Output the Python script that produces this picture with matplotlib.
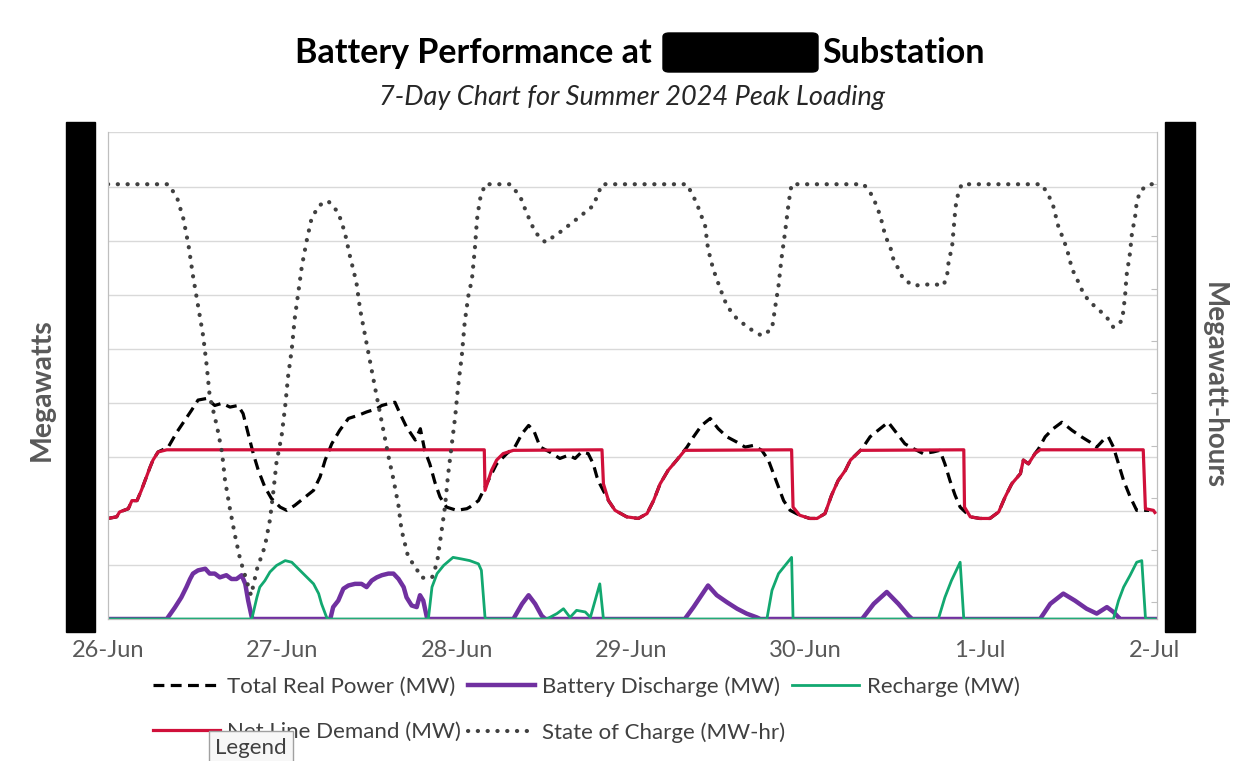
import matplotlib
matplotlib.use('Agg')
import matplotlib.pyplot as plt
from matplotlib.patches import FancyBboxPatch, Rectangle

plt.rcParams['font.family'] = ['Lato', 'DejaVu Sans']

# hours from 26-Jun 00:00
day_labels = ['26-Jun', '27-Jun', '28-Jun', '29-Jun', '30-Jun', '1-Jul', '2-Jul']

total_h = [0, 1.2, 1.6, 2.8, 3.3, 4.0, 4.6, 5.3, 5.8, 6.2, 6.9, 8.3, 9.5, 10.6, 11.5, 12.4, 13.6,
           14.7, 15.7, 16.8, 17.9, 18.6, 19.3, 20.0, 20.7, 21.6, 22.5, 23.7, 24.6, 25.7, 26.9, 28.3,
           29.2, 29.9, 30.8, 31.9, 33.1, 34.5, 35.6, 37.0, 37.7, 38.8, 39.5, 40.2, 41.1, 42.3, 43.0,
           43.6, 44.3, 45.0, 45.7, 46.6, 48.0, 49.4, 49.8, 51.0, 51.7, 52.6, 53.5, 54.9, 56.0, 57.0,
           57.9, 58.6, 59.5, 60.8, 62.2, 63.4, 64.3, 65.2, 66.1, 66.8, 67.3, 67.7, 68.9, 69.8, 71.4,
           73.0, 74.2, 75.1, 76.0, 77.1, 78.3, 79.7, 80.6, 81.7, 82.9, 84.0, 85.2, 86.6, 87.7, 88.8,
           90.0, 90.9, 91.6, 92.3, 93.0, 93.9, 95.2, 96.6, 97.6, 98.7, 99.6, 100.5, 101.5, 102.2,
           103.8, 104.9, 106.0, 107.4, 108.6, 109.7, 110.9, 112.2, 113.6, 114.5, 115.2, 115.9, 116.6,
           117.3, 118.7, 120.0, 121.4, 122.6, 123.5, 124.4, 125.6, 126.0, 126.7, 127.6, 128.1, 129.0,
           130.1, 131.3, 132.7, 134.0, 135.2, 136.1, 137.0, 137.7, 138.4, 139.1, 139.8, 140.7, 141.6,
           142.8, 143.3]
total_mw = [1.86, 1.89, 1.98, 2.04, 2.19, 2.19, 2.38, 2.63, 2.81, 2.94, 3.09, 3.18, 3.46, 3.68, 3.86,
            4.05, 4.08, 3.95, 3.99, 3.92, 3.95, 3.80, 3.43, 3.06, 2.75, 2.44, 2.23, 2.07, 2.01, 2.10,
            2.23, 2.38, 2.63, 2.94, 3.24, 3.49, 3.71, 3.77, 3.83, 3.89, 3.95, 3.99, 4.01, 3.80, 3.55,
            3.31, 3.52, 3.12, 2.87, 2.53, 2.26, 2.07, 2.01, 2.04, 2.07, 2.19, 2.38, 2.63, 2.87, 3.06,
            3.18, 3.43, 3.58, 3.49, 3.18, 3.09, 2.97, 3.03, 2.97, 3.09, 3.06, 2.87, 2.63, 2.50, 2.19,
            2.01, 1.89, 1.86, 1.95, 2.19, 2.50, 2.75, 2.94, 3.18, 3.37, 3.58, 3.71, 3.52, 3.37, 3.27,
            3.18, 3.21, 3.12, 2.94, 2.69, 2.44, 2.19, 2.01, 1.92, 1.86, 1.86, 1.95, 2.29, 2.56, 2.75,
            2.94, 3.15, 3.37, 3.49, 3.64, 3.43, 3.24, 3.15, 3.06, 3.09, 3.12, 2.87, 2.56, 2.29, 2.07,
            1.89, 1.86, 1.86, 1.98, 2.26, 2.50, 2.69, 2.94, 2.87, 3.06, 3.15, 3.37, 3.52, 3.64, 3.49,
            3.37, 3.27, 3.18, 3.31, 3.37, 3.18, 2.87, 2.56, 2.26, 2.01, 2.01, 2.01]

discharge_h = [0, 8.1, 9.2, 10.1, 10.8, 11.3, 11.7, 12.4, 13.4, 14.0, 14.7, 15.4, 16.3, 17.0, 17.7,
               18.4, 18.9, 19.3, 19.8, 20.0, 30.6, 31.0, 31.7, 32.4, 33.1, 34.0, 34.9, 35.6, 36.3,
               37.0, 37.7, 38.6, 39.3, 40.0, 40.7, 41.1, 41.8, 42.5, 42.95, 43.4, 43.9, 44.1, 55.8,
               57.0, 57.9, 58.8, 59.7, 60.2, 79.4, 80.6, 81.5, 82.6, 83.8, 85.2, 86.6, 87.9, 89.3,
               89.8, 103.8, 105.4, 107.2, 108.8, 110.2, 110.7, 128.3, 129.7, 131.5, 133.1, 134.7,
               136.1, 137.5, 138.4, 139.1, 139.3, 144.1]
discharge_mw = [0, 0, 0.21, 0.40, 0.59, 0.74, 0.84, 0.90, 0.93, 0.84, 0.84, 0.77, 0.81, 0.74, 0.74,
                0.81, 0.65, 0.34, 0.03, 0, 0, 0.22, 0.34, 0.56, 0.62, 0.65, 0.65, 0.59, 0.71, 0.77,
                0.81, 0.84, 0.84, 0.74, 0.59, 0.40, 0.25, 0.22, 0.44, 0.34, 0.03, 0, 0, 0.28, 0.44,
                0.28, 0.06, 0, 0, 0.22, 0.40, 0.62, 0.44, 0.31, 0.19, 0.10, 0.03, 0, 0, 0.28, 0.50,
                0.28, 0.06, 0, 0, 0.28, 0.47, 0.34, 0.19, 0.10, 0.22, 0.13, 0.03, 0, 0]

recharge_h = [0, 19.8, 20.5, 20.9, 21.6, 22.3, 23.2, 24.4, 25.3, 26.2, 27.4, 28.3, 29.0, 29.4, 30.1,
              30.3, 44.1, 44.6, 45.3, 46.2, 47.5, 48.7, 49.8, 51.0, 51.4, 51.9, 52.1, 60.4, 61.8,
              62.7, 63.6, 64.5, 65.7, 66.4, 67.7, 68.2, 90.7, 91.4, 92.3, 93.2, 94.1, 94.3, 114.3,
              115.2, 116.1, 117.3, 117.8, 138.4, 139.1, 139.8, 140.7, 141.6, 142.3, 142.8, 143.0,
              144.1]
recharge_mw = [0, 0, 0.40, 0.59, 0.71, 0.87, 0.99, 1.08, 1.05, 0.93, 0.77, 0.65, 0.47, 0.28, 0.03,
               0, 0, 0.59, 0.84, 0.99, 1.14, 1.11, 1.08, 1.02, 0.90, 0.03, 0, 0, 0.10, 0.19, 0.03,
               0.16, 0.13, 0.03, 0.65, 0, 0, 0.53, 0.84, 0.99, 1.14, 0, 0, 0.40, 0.71, 1.05, 0, 0,
               0.34, 0.59, 0.81, 1.05, 1.08, 0.03, 0, 0]

net_h = [0, 1.2, 1.6, 2.8, 3.3, 4.0, 4.6, 5.3, 5.8, 6.2, 6.9, 8.1, 51.8, 51.9, 52.8, 53.5, 54.4,
         55.8, 68.0, 68.2, 68.9, 69.8, 71.4, 73.0, 74.2, 75.1, 76.0, 77.1, 78.3, 79.4, 94.1, 94.3,
         95.2, 96.6, 97.6, 98.7, 99.6, 100.5, 101.5, 102.2, 103.6, 117.8, 117.9, 118.7, 120.0, 121.4,
         122.6, 123.5, 124.4, 125.6, 126.0, 126.7, 127.6, 128.3, 142.5, 142.8, 143.9, 144.1]
net_mw = [1.86, 1.89, 1.98, 2.04, 2.19, 2.19, 2.38, 2.63, 2.81, 2.94, 3.09, 3.13, 3.13, 2.38, 2.75,
          2.94, 3.06, 3.12, 3.13, 2.50, 2.19, 2.01, 1.89, 1.86, 1.95, 2.19, 2.50, 2.75, 2.94, 3.12,
          3.13, 2.07, 1.92, 1.86, 1.86, 1.95, 2.29, 2.56, 2.75, 2.94, 3.12, 3.13, 2.07, 1.89, 1.86,
          1.86, 1.98, 2.26, 2.50, 2.69, 2.94, 2.87, 3.06, 3.13, 3.13, 2.04, 2.01, 1.97]

soc_h = [0, 8.3, 9.5, 10.4, 11.1, 11.7, 12.4, 13.1, 13.6, 14.0, 15.0, 15.7, 16.1, 16.8, 17.5, 18.2,
         19.7, 20.5, 21.6, 22.3, 22.8, 23.2, 23.9, 24.4, 24.8, 25.3, 25.7, 26.2, 26.7, 27.4, 28.0,
         29.0, 30.3, 31.7, 32.6, 33.3, 34.2, 34.7, 35.4, 36.1, 36.8, 37.7, 38.6, 39.3, 40.0, 40.4,
         41.3, 42.5, 43.2, 44.6, 45.3, 45.9, 46.4, 46.8, 47.3, 47.8, 48.2, 48.7, 49.1, 49.6, 50.1,
         50.5, 50.8, 51.2, 51.9, 55.3, 56.7, 57.6, 58.8, 60.2, 62.2, 64.5, 66.8, 68.0, 79.7, 81.0,
         82.2, 82.6, 83.3, 84.3, 85.2, 86.6, 88.4, 90.0, 91.4, 91.8, 92.3, 92.7, 93.2, 93.7, 94.1,
         104.0, 104.9, 105.6, 106.3, 107.0, 107.7, 108.1, 108.8, 109.5, 110.9, 113.6, 115.0, 115.5,
         115.7, 116.2, 116.4, 116.6, 116.8, 117.5, 128.5, 129.4, 130.1, 130.8, 131.5, 132.0, 132.7,
         133.6, 134.3, 135.2, 136.3, 137.5, 138.4, 139.6, 140.0, 140.2, 140.7, 140.9, 141.4, 141.6,
         142.1, 143.4, 144.1]
soc_mwh = [8.0, 8.0, 7.75, 7.33, 6.82, 6.25, 5.67, 5.10, 4.52, 3.95, 3.37, 2.87, 2.35, 1.78, 1.27,
           0.82, 0.13, 0.63, 1.07, 1.58, 2.16, 2.68, 3.18, 3.76, 4.33, 4.84, 5.42, 5.93, 6.44, 6.95,
           7.33, 7.59, 7.68, 7.46, 7.08, 6.63, 6.12, 5.61, 5.10, 4.59, 4.08, 3.44, 2.80, 2.35, 1.84,
           1.39, 0.88, 0.63, 0.47, 0.47, 0.76, 1.34, 1.84, 2.42, 2.99, 3.56, 4.14, 4.71, 5.35, 5.86,
           6.18, 6.76, 7.33, 7.71, 8.0, 8.0, 7.78, 7.46, 7.08, 6.89, 7.08, 7.33, 7.59, 8.0, 8.0,
           7.65, 7.20, 6.76, 6.38, 5.99, 5.67, 5.42, 5.23, 5.10, 5.23, 5.61, 6.06, 6.57, 7.08, 7.65,
           8.0, 8.0, 7.85, 7.65, 7.40, 7.01, 6.79, 6.57, 6.38, 6.18, 6.06, 6.09, 6.06, 6.25, 6.50,
           6.82, 7.14, 7.46, 7.71, 8.0, 8.0, 7.81, 7.59, 7.20, 6.95, 6.76, 6.38, 6.12, 5.90, 5.74,
           5.61, 5.45, 5.26, 5.39, 5.86, 6.25, 6.70, 7.01, 7.40, 7.65, 7.88, 8.0, 8.0]

fig = plt.figure(figsize=(12.38, 7.61), dpi=100)
ax = fig.add_axes([0.0872, 0.1866, 0.8474, 0.6393])
ax2 = ax.twinx()

l_total, = ax.plot(total_h, total_mw, color='black', lw=2.3, ls=(0, (3.4, 2.0)),
                   label='Total Real Power (MW)')
l_dis, = ax.plot(discharge_h, discharge_mw, color='#7030A0', lw=3.2, label='Battery Discharge (MW)')
l_rec, = ax.plot(recharge_h, recharge_mw, color='#12A870', lw=2.0, label='Recharge (MW)')
l_net, = ax.plot(net_h, net_mw, color='#D0103A', lw=2.3, label='Net Line Demand (MW)')
l_soc, = ax2.plot(soc_h, soc_mwh, color='#404040', lw=3.0, ls=(0, (0.05, 2.3)),
                  dash_capstyle='round', label='State of Charge (MW-hr)')

ax.set_xlim(0, 144.4)
ax.set_ylim(0, 9)
ax2.set_ylim(-0.32, 8.99)
ax.set_xticks([24 * i for i in range(7)])
ax.set_xticklabels(day_labels, color='#595959', fontsize=17)
ax.set_yticks(range(10))
ax.set_yticklabels([])
ax2.set_yticks(range(9))
ax2.set_yticklabels([])
ax.tick_params(axis='x', length=0, pad=15)
ax.tick_params(axis='y', length=0)
ax2.tick_params(axis='y', direction='in', length=4, color='#BFBFBF')
ax.grid(axis='y', color='#D9D9D9', lw=1)
for a in (ax, ax2):
    for s in a.spines.values():
        s.set_color('#BFBFBF')
    a.spines['top'].set_visible(False)

# redacted axis labels and title
fig.add_artist(Rectangle((66 / 1238, 1 - 632 / 761), 29 / 1238, 510 / 761,
                         transform=fig.transFigure, color='black'))
fig.add_artist(Rectangle((1165 / 1238, 1 - 632 / 761), 30 / 1238, 510 / 761,
                         transform=fig.transFigure, color='black'))
fig.add_artist(FancyBboxPatch((663 / 1238, 1 - 72 / 761), 155 / 1238, 39 / 761,
                              boxstyle='round,pad=0,rounding_size=0.005',
                              transform=fig.transFigure, color='black'))

fig.text(652 / 1238, 1 - 53 / 761, 'Battery Performance at', ha='right', va='center',
         fontsize=24.5, fontweight='bold')
fig.text(822 / 1238, 1 - 53 / 761, 'Substation', ha='left', va='center',
         fontsize=24.5, fontweight='bold')
fig.text(632 / 1238, 1 - 97 / 761, '7-Day Chart for Summer 2024 Peak Loading', ha='center',
         va='center', fontsize=19.5, style='italic', color='#262626')

fig.text(42 / 1238, 1 - 390 / 761, 'Megawatts', rotation=90, ha='center', va='center',
         fontsize=20.5, fontweight='bold', color='#595959')
fig.text(1214 / 1238, 1 - 386 / 761, 'Megawatt-hours', rotation=270, ha='center', va='center',
         fontsize=20, fontweight='bold', color='#595959')

fig.legend(handles=[l_total, l_net, l_dis, l_soc, l_rec], loc='upper left',
           bbox_to_anchor=(153 / 1238, 1 - 676 / 761), ncol=3, frameon=False,
           fontsize=16, labelcolor='#404040', handlelength=3.0, handletextpad=0.35,
           columnspacing=0.3, labelspacing=1.15, borderpad=0, borderaxespad=0)

# hover tooltip captured in the original screenshot
fig.text(251 / 1238, 1 - 748 / 761, 'Legend', ha='center', va='center', fontsize=16,
         color='#404040', zorder=10,
         bbox=dict(boxstyle='square,pad=0.3', fc='#F7F7F7', ec='#A0A0A0', lw=1))

fig.savefig('out.png', dpi=100)
